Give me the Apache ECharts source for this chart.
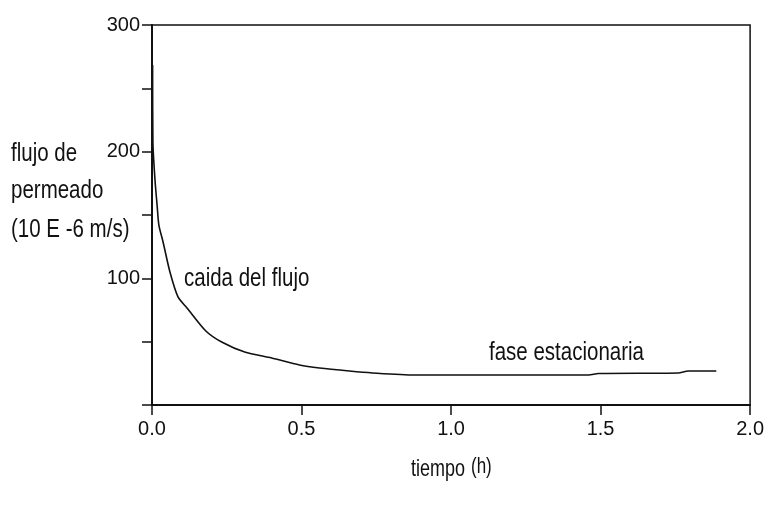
<!DOCTYPE html>
<html>
<head>
<meta charset="utf-8">
<script src="https://cdn.jsdelivr.net/npm/echarts@6/dist/echarts.min.js"></script>
<style>
html,body{margin:0;padding:0;background:#fff;}
#c{width:767px;height:510px;}
</style>
</head>
<body>
<div id="c"></div>
<script>
// time (h)
const tiempo = [0.002, 0.003, 0.010, 0.017, 0.023, 0.037, 0.060, 0.087, 0.117, 0.180, 0.233, 0.310, 0.400, 0.493, 0.560, 0.660, 0.737, 0.877, 1.227, 1.460, 1.493, 1.760, 1.793, 1.887];
// permeate flux (10E-6 m/s)
const flujo  = [268.4, 207.7, 177.6, 157.9, 142.1, 128.7, 105.0, 85.3, 76.6, 58.4, 49.7, 41.8, 37.1, 31.6, 29.2, 26.8, 25.3, 23.7, 23.7, 23.7, 24.9, 25.3, 26.8, 26.8];
const yLabelValues = [100, 200, 300];
const xNameParts = ['tiempo', '(h)'];
const yNameLines = ['flujo de', 'permeado', '(10 E -6 m/s)'];
const notes = ['caida del flujo', 'fase estacionaria'];

const FONT = '"Liberation Sans", Arial, sans-serif';
const SY = 1.3;
function txt(s, left, top, size) {
  return {type: 'text', x: left, y: top, scaleY: SY,
    style: {text: s, fill: '#111', font: size + 'px ' + FONT, textVerticalAlign: 'top'}};
}
const chart = echarts.init(document.getElementById('c'), null, {renderer: 'canvas'});
chart.setOption({
  animation: false,
  backgroundColor: '#fff',
  grid: {left: 152, top: 25, right: 15, bottom: 105, show: true, borderColor: '#111', borderWidth: 1.5, backgroundColor: 'transparent'},
  xAxis: {
    type: 'value', min: 0, max: 2, interval: 0.5,
    axisLine: {show: true, lineStyle: {color: '#111', width: 2}},
    axisTick: {show: true, inside: false, length: 10, lineStyle: {color: '#111', width: 1.5}},
    axisLabel: {margin: 14, color: '#111', fontFamily: FONT, fontSize: 20, formatter: v => v.toFixed(1)},
    splitLine: {show: false}
  },
  yAxis: {
    type: 'value', min: 0, max: 300, interval: 50,
    axisLine: {show: true, lineStyle: {color: '#111', width: 2}},
    axisTick: {show: true, inside: false, length: 10, lineStyle: {color: '#111', width: 1.5}},
    axisLabel: {margin: 12, color: '#111', fontFamily: FONT, fontSize: 20,
      formatter: v => yLabelValues.includes(v) ? String(v) : ''},
    splitLine: {show: false}
  },
  graphic: [
    txt(yNameLines[0], 11, 140, 20.5),
    txt(yNameLines[1], 11, 177, 20.5),
    txt(yNameLines[2], 11, 216, 20.5),
    txt(notes[0], 184, 265, 20.5),
    txt(notes[1], 489, 339, 20.5),
    txt(xNameParts[0], 411, 458, 18),
    txt(xNameParts[1], 471, 456, 17)
  ],
  series: [{
    type: 'line',
    data: tiempo.map((t, i) => [t, flujo[i]]),
    showSymbol: false,
    symbol: 'none',
    smooth: 0.25,
    lineStyle: {color: '#111', width: 1.6},
    z: 5
  }]
});
</script>
</body>
</html>
